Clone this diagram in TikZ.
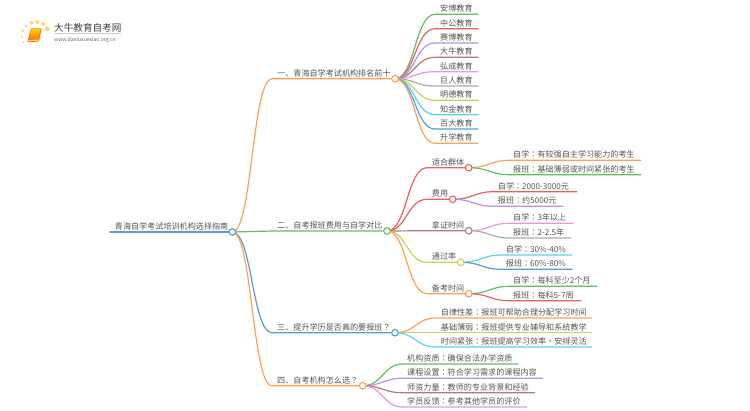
\documentclass[tikz,border=0pt]{standalone}
\usepackage{fontspec}
\usetikzlibrary{calc,backgrounds}
\setmainfont{Noto Sans CJK SC}
\newfontfamily\punctfont{Noto Sans CJK TC}
\newcommand{\cln}{{\punctfont ：}}
\newcommand{\cma}{{\punctfont ，}}
\newcommand{\qmk}{{\punctfont ？}}
\definecolor{cOrange}{HTML}{FFA052}
\definecolor{cGreen}{HTML}{62C061}
\definecolor{cRed}{HTML}{E9605F}
\definecolor{cPurple}{HTML}{B793DC}
\definecolor{cBrown}{HTML}{A87F7C}
\definecolor{cPink}{HTML}{EE96D6}
\definecolor{cGrey}{HTML}{ABABAB}
\definecolor{cYellow}{HTML}{CFCF58}
\definecolor{cCyan}{HTML}{55D6EA}
\definecolor{cBlue}{HTML}{529FD8}
\definecolor{cText}{HTML}{555555}
\definecolor{cDot}{HTML}{FDD777}
\tikzset{
  hub/.style={circle,fill=white,line width=1.1pt,minimum size=6.6pt,inner sep=0pt},
  lab/.style={anchor=base west,inner sep=0pt,text=cText,font=\fontsize{8.1pt}{9pt}\selectfont},
  wire/.style={line width=1.2pt,line cap=round}
}
% hub: id, x, y, colour
\newcommand{\hubn}[4]{\node[hub,draw=#4] (#1) at (#2,#3) {};}
% curved connector from a hub to a start coordinate and along to an end
\newcommand{\conn}[4]{\begin{pgfonlayer}{background}
  \draw[wire,#4] (#1.center) .. controls ($(#1.center)!.5!(#2 |- #1.center)$) and ($(#2)!.5!(#1.center |- #2)$) .. (#2) -- (#3);
\end{pgfonlayer}}
% leaf: id, parent, start x, end x, y, colour, text x, text
\newcommand{\leafn}[8]{%
  \coordinate (#1-s) at (#3,#5);
  \coordinate (#1-e) at (#4,#5);
  \node[lab] (#1) at (#7,#5-2.6) {#8};
  \conn{#2}{#1-s}{#1-e}{#6}}
\begin{document}
\begin{tikzpicture}[x=1pt,y=-1pt]
\useasboundingbox (0,0) rectangle (750,410);
\begin{pgfonlayer}{background}
\fill[white] (0,0) rectangle (750,410);
\end{pgfonlayer}
% logo
\foreach \a/\b/\r in {47.3/28.7/2.4,43/24/2.1,37.3/22/2,31.3/22.7/2,26/25.7/1.7,22.7/30.7/1.5,21.7/36.7/1.2,23.3/42.3/1}
  \fill[cDot] (\a,\b) circle (\r);
\fill[color=orange!90!red,rounded corners=.8pt] (31,28.3) -- (41.8,28.3) -- (38.8,41.6) -- (27.2,42.2) -- cycle;
\shade[top color=yellow!60!orange,bottom color=orange,shading angle=0] (31.6,29.2) -- (40.6,29.2) -- (38,39) -- (28.6,39.2) -- cycle;
\fill[white!65!orange] (28.2,39.9) -- (38,39.6) -- (37.8,40.8) -- (28,41.1) -- cycle;
\node[anchor=base west,inner sep=0pt,text=black!75,font=\fontsize{9.6pt}{10pt}\selectfont] (logoA) at (54,31) {大牛教育自考网};
\coordinate (logoL) at (54,33.5);
\coordinate (logoR) at (121,33.5);
\draw[black!20,line width=.5pt] (logoL) -- (logoR);
\node[anchor=base west,inner sep=0pt,text=black!60,font=\fontsize{5.1pt}{6pt}\selectfont] (logoB) at (54,41) {www.daniuxuexiao.org.cn};
% hubs
\hubn{root}{232.4}{232}{cBlue}
\hubn{b1}{395}{78.7}{cOrange}
\hubn{b2}{387}{231}{cGreen}
\hubn{b3}{395}{332.7}{cBlue}
\hubn{b4}{362.7}{385.7}{cOrange}
\hubn{c1}{468.7}{167.7}{cRed}
\hubn{c2}{452.7}{199.3}{cRed}
\hubn{c3}{468.7}{230.7}{cBrown}
\hubn{c4}{460.7}{262.3}{cYellow}
\hubn{c5}{468.7}{293.7}{cOrange}
% root
\coordinate (root-s) at (110,232);
\begin{pgfonlayer}{background}\draw[wire,cBlue] (root-s) -- (root);\end{pgfonlayer}
\node[lab] (rootT) at (114.7,229.4) {青海自学考试培训机构选择指南};
% main branches
\coordinate (s1) at (272,78.7);
\coordinate (s2) at (272,231);
\coordinate (s3) at (272,332.7);
\coordinate (s4) at (272,385.7);
\conn{root}{s1}{b1}{cOrange}
\conn{root}{s2}{b2}{cGreen}
\conn{root}{s3}{b3}{cBlue}
\conn{root}{s4}{b4}{cOrange}
\node[lab] (t1) at (277,76.1) {一、青海自学考试机构排名前十};
\node[lab] (t2) at (277,228.4) {二、自考报班费用与自学对比};
\node[lab] (t3) at (277,330.1) {三、提升学历是否真的要报班\qmk};
\node[lab] (t4) at (277,383.1) {四、自考机构怎么选\qmk};
% top ten
\leafn{a1}{b1}{435}{478}{14.3}{cGreen}{440}{安博教育}
\leafn{a2}{b1}{435}{478}{28.7}{cRed}{440}{中公教育}
\leafn{a3}{b1}{435}{478}{43}{cPurple}{440}{赛博教育}
\leafn{a4}{b1}{435}{478}{57.3}{cBrown}{440}{大牛教育}
\leafn{a5}{b1}{435}{478}{71.7}{cPink}{440}{弘成教育}
\leafn{a6}{b1}{435}{478}{86}{cGrey}{440}{巨人教育}
\leafn{a7}{b1}{435}{478}{100.3}{cYellow}{440}{明德教育}
\leafn{a8}{b1}{435}{478}{114.7}{cCyan}{440}{知金教育}
\leafn{a9}{b1}{435}{478}{129}{cBlue}{440}{百大教育}
\leafn{a10}{b1}{435}{478}{143.3}{cOrange}{440}{升学教育}
% second level of branch 2
\coordinate (k1) at (427,167.7);
\coordinate (k2) at (427,199.3);
\coordinate (k3) at (427,230.7);
\coordinate (k4) at (427,262.3);
\coordinate (k5) at (427,293.7);
\conn{b2}{k1}{c1}{cRed}
\conn{b2}{k2}{c2}{cRed}
\conn{b2}{k3}{c3}{cBrown}
\conn{b2}{k4}{c4}{cYellow}
\conn{b2}{k5}{c5}{cOrange}
\node[lab] (ct1) at (431.7,165.1) {适合群体};
\node[lab] (ct2) at (431.7,196.7) {费用};
\node[lab] (ct3) at (431.7,228.1) {拿证时间};
\node[lab] (ct4) at (431.7,259.7) {通过率};
\node[lab] (ct5) at (431.7,291.1) {备考时间};
% third level
\leafn{d1}{c1}{510}{640.7}{160.3}{cOrange}{513}{自学\cln 有较强自主学习能力的考生}
\leafn{d2}{c1}{510}{640.7}{174.7}{cGreen}{513}{报班\cln 基础薄弱或时间紧张的考生}
\leafn{d3}{c2}{494}{576.7}{191.7}{cRed}{497.7}{自学\cln 2000-3000元}
\leafn{d4}{c2}{494}{562.7}{206.3}{cPurple}{497.7}{报班\cln 约5000元}
\leafn{d5}{c3}{510}{572.7}{223.3}{cPink}{513}{自学\cln 3年以上}
\leafn{d6}{c3}{510}{571}{238}{cGrey}{513}{报班\cln 2-2.5年}
\leafn{d7}{c4}{502}{572}{255}{cCyan}{505.7}{自学\cln 30\%-40\%}
\leafn{d8}{c4}{502}{572}{269.3}{cBlue}{505.7}{报班\cln 60\%-80\%}
\leafn{d9}{c5}{510}{596.7}{286.3}{cGreen}{513}{自学\cln 每科至少2个月}
\leafn{d10}{c5}{510}{580.7}{300.7}{cRed}{513}{报班\cln 每科5-7周}
% branch 3
\leafn{e1}{b3}{436}{591.7}{318}{cOrange}{440.7}{自律性差\cln 报班可帮助合理分配学习时间}
\leafn{e2}{b3}{436}{591.7}{332.7}{cYellow}{440.7}{基础薄弱\cln 报班提供专业辅导和系统教学}
\leafn{e3}{b3}{436}{591.7}{347}{cCyan}{440.7}{时间紧张\cln 报班提高学习效率\cma 安排灵活}
% branch 4
\leafn{f1}{b4}{403}{518}{364}{cGreen}{407}{机构资质\cln 确保合法办学资质}
\leafn{f2}{b4}{403}{542.7}{378.3}{cPurple}{407}{课程设置\cln 符合学习需求的课程内容}
\leafn{f3}{b4}{403}{534.7}{392.7}{cBrown}{407}{师资力量\cln 教师的专业背景和经验}
\leafn{f4}{b4}{403}{526.7}{407}{cPink}{407}{学员反馈\cln 参考其他学员的评价}
\end{tikzpicture}
\end{document}
